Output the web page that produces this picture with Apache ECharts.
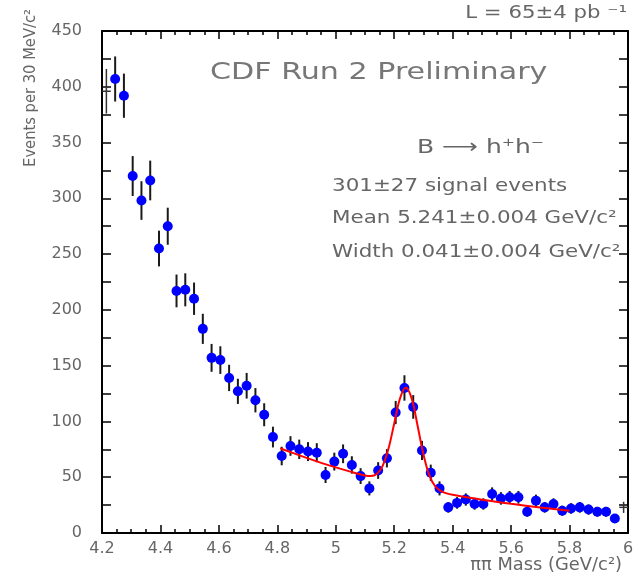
<!DOCTYPE html>
<html>
<head>
<meta charset="utf-8">
<script src="https://cdn.jsdelivr.net/npm/echarts@6/dist/echarts.min.js"></script>
<style>html,body{margin:0;padding:0;background:#fff;}#c{width:643px;height:580px;}</style>
</head>
<body>
<div id="c"></div>
<script>
// Bin centres (GeV/c^2), 30 MeV bins
const mass = [4.245,4.275,4.305,4.335,4.365,4.395,4.425,4.455,4.485,4.515,4.545,4.575,4.605,4.635,4.665,4.695,4.725,4.755,4.785,4.815,4.845,4.875,4.905,4.935,4.965,4.995,5.025,5.055,5.085,5.115,5.145,5.175,5.205,5.235,5.265,5.295,5.325,5.355,5.385,5.415,5.445,5.475,5.505,5.535,5.565,5.595,5.625,5.655,5.685,5.715,5.745,5.775,5.805,5.835,5.865,5.895,5.925,5.955];
// Events per bin
const events = [407,392,320,298,316,255,275,217,218,210,183,157,155,139,127,132,119,106,86,69,78,75,73,72,52,64,71,61,51,40,56,67,108,130,113,74,54,40,23,27,30,26,26,35,31,32,32,19,29,23,26,20,22,23,21,19,19,13];
// Statistical errors
const errors = [20.2,19.8,17.9,17.3,17.8,16.0,16.6,14.7,14.8,14.5,13.5,12.5,12.4,11.8,11.3,11.5,10.9,10.3,9.3,8.3,8.8,8.7,8.5,8.5,7.2,8.0,8.4,7.8,7.1,6.3,7.5,8.2,10.4,11.4,10.6,8.6,7.3,6.3,4.8,5.2,5.5,5.1,5.1,5.9,5.6,5.7,5.7,4.4,5.4,4.8,5.1,4.5,4.7,4.8,4.6,4.4,4.4,3.6];
// Edge bins drawn as plain crosses
const edgeMass = [4.215, 5.985];
const edgeEvents = [396, 23];
const edgeErrors = [20, 5];
// Fit curve (background + gaussian)
const fitMass = [4.81,4.85,4.90,4.95,5.00,5.05,5.10,5.12,5.14,5.16,5.18,5.20,5.22,5.24,5.26,5.28,5.30,5.32,5.34,5.36,5.38,5.40,5.50,5.60,5.70,5.80];
const fitValue = [76,72,67.3,62.9,58.8,55.0,51.6,51.1,52.9,59.9,75.2,98.2,120.8,130.4,120.3,96.2,70.4,51.9,41.9,37.5,35.5,34.3,29.9,26.2,22.9,20.0];
// Axis settings
const xTicks = {min: 4.2, max: 6, interval: 0.2};
const yTicks = {min: 0, max: 450, interval: 50};

const pts = mass.map((m, i) => [m, events[i], errors[i]]);
const edges = edgeMass.map((m, i) => [m, edgeEvents[i], edgeErrors[i]]);
const fit = fitMass.map((m, i) => [m, fitValue[i]]);

const FONT = '"DejaVu Sans", sans-serif';
const GRAY = '#666666';
const chart = echarts.init(document.getElementById('c'), null, {renderer: 'canvas'});

const axisLine = {show: true, onZero: false, lineStyle: {color: '#000', width: 2}};
const xCommon = {type: 'value', min: xTicks.min, max: xTicks.max, interval: xTicks.interval,
  axisLine, splitLine: {show: false},
  axisTick: {inside: true, length: 8, lineStyle: {color: '#000', width: 1.5}},
  minorTick: {show: true, splitNumber: 4, length: 4, lineStyle: {color: '#000', width: 1.5}}};
const yCommon = {type: 'value', min: yTicks.min, max: yTicks.max, interval: yTicks.interval,
  axisLine, splitLine: {show: false},
  axisTick: {inside: true, length: 9, lineStyle: {color: '#000', width: 1.5}},
  minorTick: {show: true, splitNumber: 2, length: 9, lineStyle: {color: '#000', width: 1.5}}};

chart.setOption({
  animation: false,
  backgroundColor: '#fff',
  grid: {left: 102, right: 15, top: 31, bottom: 47, containLabel: false},
  xAxis: [
    Object.assign({}, xCommon, {position: 'bottom',
      axisLabel: {color: GRAY, fontSize: 16, fontFamily: FONT, margin: 8}}),
    Object.assign({}, xCommon, {position: 'top', axisLabel: {show: false}})
  ],
  yAxis: [
    Object.assign({}, yCommon, {position: 'left',
      axisLabel: {color: GRAY, fontSize: 16, fontFamily: FONT, margin: 20}}),
    Object.assign({}, yCommon, {position: 'right', axisLabel: {show: false}})
  ],
  series: [
    {
      type: 'custom', xAxisIndex: 0, yAxisIndex: 0, z: 2, clip: true,
      data: pts,
      renderItem: function (params, api) {
        const x = api.value(0), y = api.value(1), e = api.value(2);
        const a = api.coord([x, y - e]), b = api.coord([x, y + e]);
        return {type: 'line', shape: {x1: a[0], y1: a[1], x2: b[0], y2: b[1]},
          style: {stroke: '#1a1a1a', lineWidth: 2}};
      }
    },
    {
      type: 'custom', xAxisIndex: 0, yAxisIndex: 0, z: 2, clip: true,
      data: edges,
      renderItem: function (params, api) {
        const x = api.value(0), y = api.value(1), e = api.value(2);
        const a = api.coord([x, y - e]), b = api.coord([x, y + e]);
        const l = api.coord([x - 0.015, y]), r = api.coord([x + 0.015, y]);
        return {type: 'group', children: [
          {type: 'line', shape: {x1: a[0], y1: a[1], x2: b[0], y2: b[1]}, style: {stroke: '#333', lineWidth: 1.5}},
          {type: 'line', shape: {x1: l[0], y1: l[1], x2: r[0], y2: r[1]}, style: {stroke: '#333', lineWidth: 1.5}}
        ]};
      }
    },
    {
      type: 'scatter', xAxisIndex: 0, yAxisIndex: 0, z: 3,
      data: pts.map(p => [p[0], p[1]]),
      symbol: 'circle', symbolSize: 10,
      itemStyle: {color: '#0000ff', opacity: 1}
    },
    {
      type: 'line', xAxisIndex: 0, yAxisIndex: 0, z: 4,
      data: fit, symbol: 'none', smooth: 0.35,
      lineStyle: {color: '#ff0000', width: 2}
    }
  ],
  graphic: [
    {type: 'text', x: 210, y: 73, scaleX: 1.31, z: 10,
      style: {text: 'CDF Run 2 Preliminary', font: '23px ' + FONT, fill: '#777', textAlign: 'left', textVerticalAlign: 'middle'}},
    {type: 'text', x: 417, y: 148, scaleX: 1.25, z: 10,
      style: {text: 'B \u27F6 h\u207Ah\u207B', font: '20px ' + FONT, fill: GRAY, textAlign: 'left', textVerticalAlign: 'middle'}},
    {type: 'text', x: 332, y: 187, scaleX: 1.26, z: 10,
      style: {text: '301\u00B127 signal events', font: '17px ' + FONT, fill: GRAY, textAlign: 'left', textVerticalAlign: 'middle'}},
    {type: 'text', x: 332, y: 219, scaleX: 1.26, z: 10,
      style: {text: 'Mean 5.241\u00B10.004 GeV/c\u00B2', font: '17px ' + FONT, fill: GRAY, textAlign: 'left', textVerticalAlign: 'middle'}},
    {type: 'text', x: 332, y: 253, scaleX: 1.26, z: 10,
      style: {text: 'Width 0.041\u00B10.004 GeV/c\u00B2', font: '17px ' + FONT, fill: GRAY, textAlign: 'left', textVerticalAlign: 'middle'}},
    {type: 'text', x: 627, y: 14, scaleX: 1.25, z: 10,
      style: {text: 'L = 65\u00B14 pb \u207B\u00B9', font: '17px ' + FONT, fill: GRAY, textAlign: 'right', textVerticalAlign: 'middle'}},
    {type: 'text', x: 31, y: 88, rotation: Math.PI / 2, scaleX: 0.92, z: 10,
      style: {text: 'Events per 30 MeV/c\u00B2', font: '16px ' + FONT, fill: GRAY, textAlign: 'center', textVerticalAlign: 'middle'}},
    {type: 'text', x: 622, y: 566, scaleX: 1.05, z: 10,
      style: {text: '\u03C0\u03C0 Mass (GeV/c\u00B2)', font: '17px ' + FONT, fill: GRAY, textAlign: 'right', textVerticalAlign: 'middle'}}
  ]
});
</script>
</body>
</html>
